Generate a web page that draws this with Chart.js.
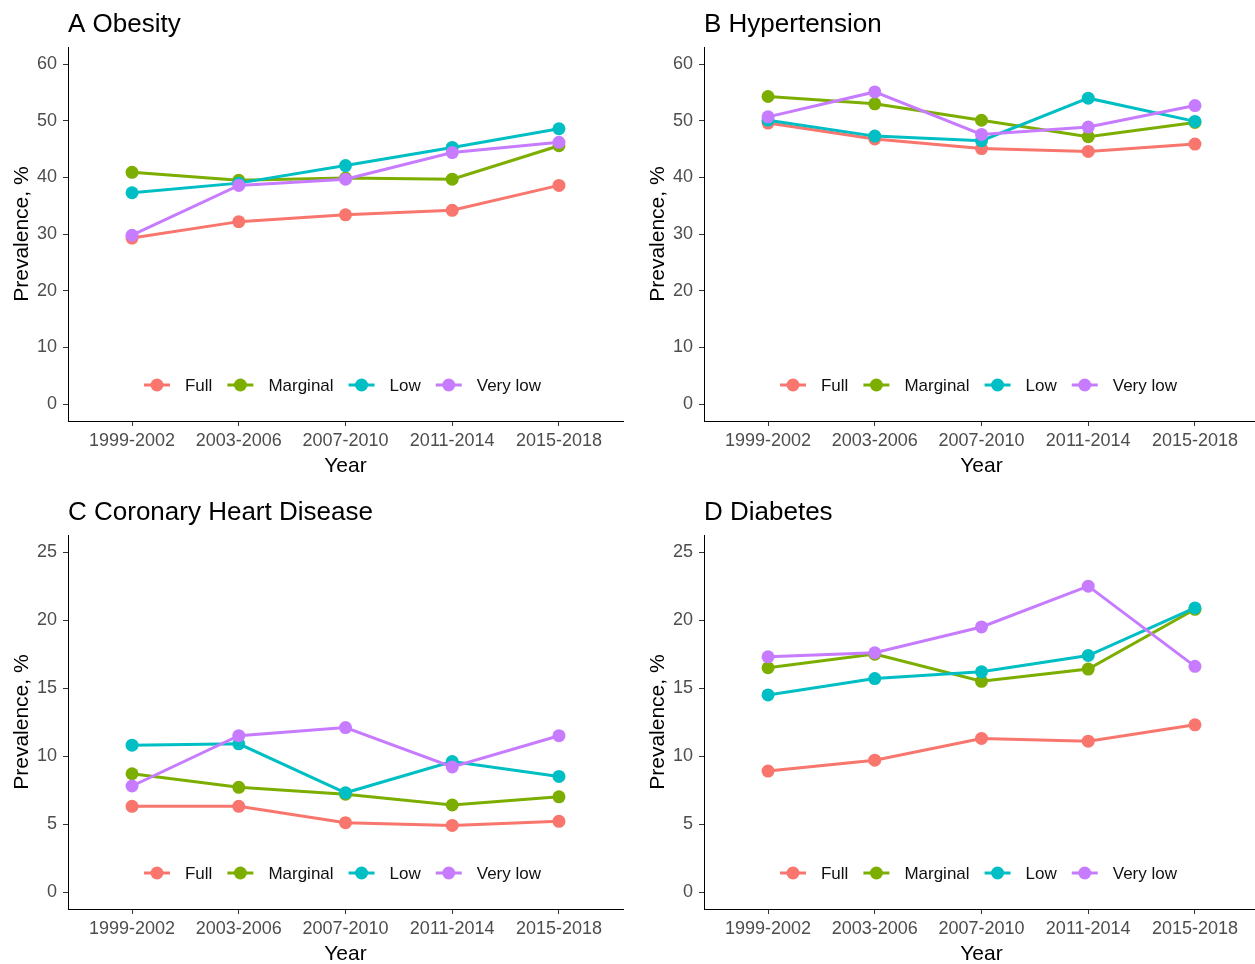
<!DOCTYPE html>
<html><head><meta charset="utf-8">
<script src="https://cdn.jsdelivr.net/npm/chart.js@4"></script>
<style>
html,body{margin:0;padding:0;background:#fff;overflow:hidden;width:1255px;height:964px;position:relative;}
.panel{position:absolute;width:630px;height:482px;}
canvas{display:block;}
</style></head><body>
<div class="panel" style="left:0px;top:0px"><canvas id="cA" width="630" height="482"></canvas></div>
<div class="panel" style="left:636px;top:0px"><canvas id="cB" width="630" height="482"></canvas></div>
<div class="panel" style="left:0px;top:488px"><canvas id="cC" width="630" height="482"></canvas></div>
<div class="panel" style="left:636px;top:488px"><canvas id="cD" width="630" height="482"></canvas></div>
<script>
// ---- data ----
const categories = ['1999-2002', '2003-2006', '2007-2010', '2011-2014', '2015-2018'];
const groups = ['Full', 'Marginal', 'Low', 'Very low'];
const groupColors = ['#F8766D', '#7CAE00', '#00BFC4', '#C77CFF'];

const obesityFull     = [29.3, 32.2, 33.4, 34.2, 38.6];
const obesityMarginal = [40.9, 39.5, 39.9, 39.7, 45.6];
const obesityLow      = [37.3, 39.0, 42.1, 45.3, 48.6];
const obesityVeryLow  = [29.8, 38.6, 39.7, 44.4, 46.2];

const hyperFull     = [49.6, 46.8, 45.1, 44.6, 45.9];
const hyperMarginal = [54.3, 53.0, 50.1, 47.2, 49.7];
const hyperLow      = [50.1, 47.3, 46.5, 54.0, 49.9];
const hyperVeryLow  = [50.7, 55.1, 47.6, 48.9, 52.7];

const chdFull     = [6.3, 6.3, 5.1, 4.9, 5.2];
const chdMarginal = [8.7, 7.7, 7.2, 6.4, 7.0];
const chdLow      = [10.8, 10.9, 7.3, 9.6, 8.5];
const chdVeryLow  = [7.8, 11.5, 12.1, 9.2, 11.5];

const diabFull     = [8.9, 9.7, 11.3, 11.1, 12.3];
const diabMarginal = [16.5, 17.5, 15.5, 16.4, 20.8];
const diabLow      = [14.5, 15.7, 16.2, 17.4, 20.9];
const diabVeryLow  = [17.3, 17.6, 19.5, 22.5, 16.6];

const ticksHigh = [0, 10, 20, 30, 40, 50, 60];
const ticksLow  = [0, 5, 10, 15, 20, 25];

const FONT = '"Liberation Sans", Arial, sans-serif';

const insideLegend = {
  id: 'insideLegend',
  afterDatasetsDraw(chart) {
    const ctx = chart.ctx, ca = chart.chartArea;
    const ds = chart.data.datasets;
    ctx.save();
    ctx.font = '17px ' + FONT;
    const keyW = 26, gapT = 15, gapI = 15;
    const widths = ds.map(d => ctx.measureText(d.label).width);
    const total = widths.reduce((a, w) => a + keyW + gapT + w, 0) + gapI * (ds.length - 1);
    let x = (ca.left + ca.right) / 2 - total / 2 - 3;
    const y = ca.bottom - 36;
    ds.forEach((d, i) => {
      ctx.strokeStyle = d.borderColor; ctx.lineWidth = 3;
      ctx.beginPath(); ctx.moveTo(x, y); ctx.lineTo(x + keyW, y); ctx.stroke();
      ctx.fillStyle = d.backgroundColor;
      ctx.beginPath(); ctx.arc(x + keyW / 2, y, 6.5, 0, Math.PI * 2); ctx.fill();
      ctx.fillStyle = '#111'; ctx.textBaseline = 'middle'; ctx.textAlign = 'left';
      ctx.fillText(d.label, x + keyW + gapT, y + 1);
      x += keyW + gapT + widths[i] + gapI;
    });
    ctx.restore();
  }
};

function makeChart(id, title, series, yMin, yMax, yTicks) {
  const datasets = series.map((vals, i) => ({
    label: groups[i],
    data: vals.map((v, k) => ({ x: k, y: v })),
    borderColor: groupColors[i],
    backgroundColor: groupColors[i],
    borderWidth: 3,
    pointRadius: 6.5,
    pointHoverRadius: 6.5,
    pointBorderWidth: 0,
    tension: 0,
    order: series.length - i
  }));
  new Chart(document.getElementById(id), {
    type: 'line',
    data: { datasets },
    plugins: [insideLegend],
    options: {
      responsive: false,
      animation: false,
      events: [],
      layout: { padding: { left: 0, right: 7, top: 0, bottom: 0 } },
      plugins: {
        legend: { display: false },
        tooltip: { enabled: false },
        title: {
          display: true, text: title, align: 'start', fullSize: false,
          color: '#000', font: { family: FONT, size: 26, weight: 'normal' },
          padding: { top: 9, bottom: 7 }
        }
      },
      scales: {
        x: {
          type: 'linear', min: -0.6, max: 4.6,
          afterBuildTicks: s => { s.ticks = categories.map((c, k) => ({ value: k })); },
          afterFit: s => { s.height = 61; },
          ticks: {
            callback: v => categories[v], color: '#4D4D4D',
            font: { family: FONT, size: 18 }, padding: 4.5, maxRotation: 0, autoSkip: false
          },
          grid: { drawOnChartArea: false, drawTicks: true, tickLength: 5, color: '#333', lineWidth: 1 },
          border: { display: true, color: '#000', width: 1 },
          title: { display: true, text: 'Year', color: '#000', font: { family: FONT, size: 21 }, padding: { top: 0, bottom: 3 } }
        },
        y: {
          type: 'linear', min: yMin, max: yMax,
          afterBuildTicks: s => { s.ticks = yTicks.map(v => ({ value: v })); },
          afterFit: s => { s.width = 68; },
          ticks: { color: '#4D4D4D', font: { family: FONT, size: 18 }, padding: 6 },
          grid: { drawOnChartArea: false, drawTicks: true, tickLength: 5, color: '#333', lineWidth: 1 },
          border: { display: true, color: '#000', width: 1 },
          title: { display: true, text: 'Prevalence, %', color: '#000', font: { family: FONT, size: 21 }, padding: { top: 9.4, bottom: 0 } }
        }
      }
    }
  });
}

makeChart('cA', 'A Obesity', [obesityFull, obesityMarginal, obesityLow, obesityVeryLow], -3, 63, ticksHigh);
makeChart('cB', 'B Hypertension', [hyperFull, hyperMarginal, hyperLow, hyperVeryLow], -3, 63, ticksHigh);
makeChart('cC', 'C Coronary Heart Disease', [chdFull, chdMarginal, chdLow, chdVeryLow], -1.25, 26.25, ticksLow);
makeChart('cD', 'D Diabetes', [diabFull, diabMarginal, diabLow, diabVeryLow], -1.25, 26.25, ticksLow);
</script>
</body></html>
